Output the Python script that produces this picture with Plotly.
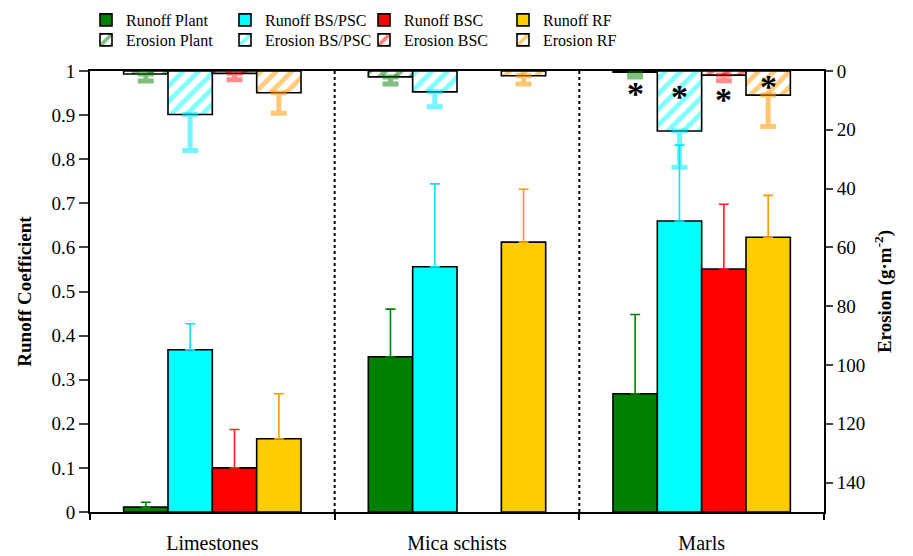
import plotly.graph_objects as go

categories = ["Limestones", "Mica schists", "Marls"]
series = ["Plant", "BS/PSC", "BSC", "RF"]

runoff_plant = [0.011, 0.352, 0.268]
runoff_bs = [0.368, 0.556, 0.660]
runoff_bsc = [0.100, None, 0.551]
runoff_rf = [0.166, 0.612, 0.623]

runoff_err_plant = [0.011, 0.108, 0.180]
runoff_err_bs = [0.059, 0.188, 0.172]
runoff_err_bsc = [0.087, None, 0.147]
runoff_err_rf = [0.102, 0.120, 0.095]

erosion_plant = [1.0, 2.0, 0.4]
erosion_bs = [14.8, 7.1, 20.4]
erosion_bsc = [0.8, None, 1.4]
erosion_rf = [7.4, 1.6, 8.2]

erosion_err_plant = [2.4, 2.4, 1.6]
erosion_err_bs = [12.2, 5.1, 12.3]
erosion_err_bsc = [2.2, None, 1.9]
erosion_err_rf = [7.0, 2.8, 10.7]

# significance marks (per series, per category)
sig_plant = ["", "", "*"]
sig_bs = ["", "", "*"]
sig_bsc = ["", "", "*"]
sig_rf = ["", "", "*"]

colors = ["#008000", "#00FFFF", "#FF0000", "#FFCC00"]
err_colors = ["#008000", "#00E5FF", "#FF2020", "#FF9900"]
ero_colors = ["#008000", "#00FFFF", "#FF0000", "#FF9900"]
ero_err_colors = ["rgba(0,128,0,0.5)", "rgba(0,235,255,0.55)",
                  "rgba(255,0,0,0.45)", "rgba(255,153,0,0.55)"]

runoff = [runoff_plant, runoff_bs, runoff_bsc, runoff_rf]
runoff_err = [runoff_err_plant, runoff_err_bs, runoff_err_bsc, runoff_err_rf]
erosion = [erosion_plant, erosion_bs, erosion_bsc, erosion_rf]
erosion_err = [erosion_err_plant, erosion_err_bs, erosion_err_bsc, erosion_err_rf]
sigs = [sig_plant, sig_bs, sig_bsc, sig_rf]
# vertical placement of the asterisks in erosion units
sig_pos = [5.0, 6.0, 7.0, 2.6]

FONT = "'Liberation Serif', 'DejaVu Serif', serif"
# the page body adds an 8px offset, so the figure is 8px smaller
W, H = 905, 548
ML, MR, MT, MB = 82, 89, 63, 44
BARGAP = 0.275

fig = go.Figure()

for i, s in enumerate(series):
    fig.add_trace(go.Bar(
        name="Runoff " + s, x=categories, y=runoff[i],
        offsetgroup=str(i), yaxis="y", legend="legend",
        marker=dict(color=colors[i], line=dict(color="black", width=1.6)),
        error_y=dict(type="data", symmetric=False, array=runoff_err[i],
                     arrayminus=[0 if v is not None else None for v in runoff_err[i]],
                     color=err_colors[i], thickness=1.6, width=5),
    ))

for i, s in enumerate(series):
    fig.add_trace(go.Bar(
        name="Erosion " + s, x=categories, y=erosion[i],
        offsetgroup=str(i), yaxis="y2", legend="legend2",
        marker=dict(color="white", line=dict(color="black", width=1.6),
                    pattern=dict(shape="/", fgcolor=ero_colors[i], bgcolor="white",
                                 size=11, solidity=0.45)),
        error_y=dict(type="data", symmetric=False, array=erosion_err[i],
                     arrayminus=[0 if v is not None else None for v in erosion_err[i]],
                     color=ero_err_colors[i], thickness=5, width=8),
    ))

# asterisks
plot_w = W - ML - MR
cat_px = plot_w / len(categories)
bar_px = cat_px * (1 - BARGAP) / len(series)
for i in range(len(series)):
    for j, c in enumerate(categories):
        if sigs[i][j]:
            fig.add_annotation(
                x=c, xref="x", y=sig_pos[i], yref="y2",
                xshift=(i - 1.5) * bar_px, text="<b>" + sigs[i][j] + "</b>",
                showarrow=False,
                font=dict(family=FONT, size=34, color="black"),
                yanchor="middle", yshift=-8,
            )

# dotted separators between categories
for k in range(len(categories) - 1):
    fig.add_shape(type="line", xref="x", yref="paper",
                  x0=k + 0.5, x1=k + 0.5, y0=0, y1=1,
                  line=dict(color="black", width=2, dash="dot"), layer="below")

legend_common = dict(orientation="h", xref="container", x=78 / W, xanchor="left",
                     yref="container", yanchor="middle",
                     font=dict(family=FONT, size=16), entrywidth=94,
                     itemwidth=30, tracegroupgap=0, bgcolor="rgba(0,0,0,0)",
                     borderwidth=0)

fig.update_layout(
    width=W, height=H,
    margin=dict(l=ML, r=MR, t=MT, b=MB, autoexpand=False),
    paper_bgcolor="white", plot_bgcolor="white",
    barmode="group", bargap=BARGAP, bargroupgap=0,
    font=dict(family=FONT, color="black", size=19),
    showlegend=True,
    legend=dict(legend_common, y=1 - 12 / H),
    legend2=dict(legend_common, y=1 - 32 / H),
    xaxis=dict(type="category", showline=True, linecolor="black", linewidth=2,
               mirror=True, ticks="outside", tickson="boundaries", ticklen=6,
               tickwidth=1.5, tickcolor="black", showgrid=False, automargin=False,
               ticklabelstandoff=12,
               tickfont=dict(family=FONT, size=20), range=[-0.5, 2.5]),
    yaxis=dict(range=[0, 1], dtick=0.1, showline=True, linecolor="black",
               linewidth=2, ticks="outside", ticklen=9, tickwidth=1.5,
               showgrid=False, zeroline=False, automargin=False,
               title=dict(text="<b>Runoff Coefficient</b>", font=dict(family=FONT, size=19),
                          standoff=15),
               tickfont=dict(family=FONT, size=19)),
    yaxis2=dict(range=[150, 0], dtick=20, overlaying="y", side="right",
                showline=True, linecolor="black", linewidth=2, ticks="outside",
                ticklen=7, tickwidth=1.5, showgrid=False, zeroline=False,
                automargin=False,
                title=dict(text="<b>Erosion (g·m<sup>-2</sup>)</b>",
                           font=dict(family=FONT, size=19), standoff=13),
                tickfont=dict(family=FONT, size=19)),
)

fig.write_html("out.html")
